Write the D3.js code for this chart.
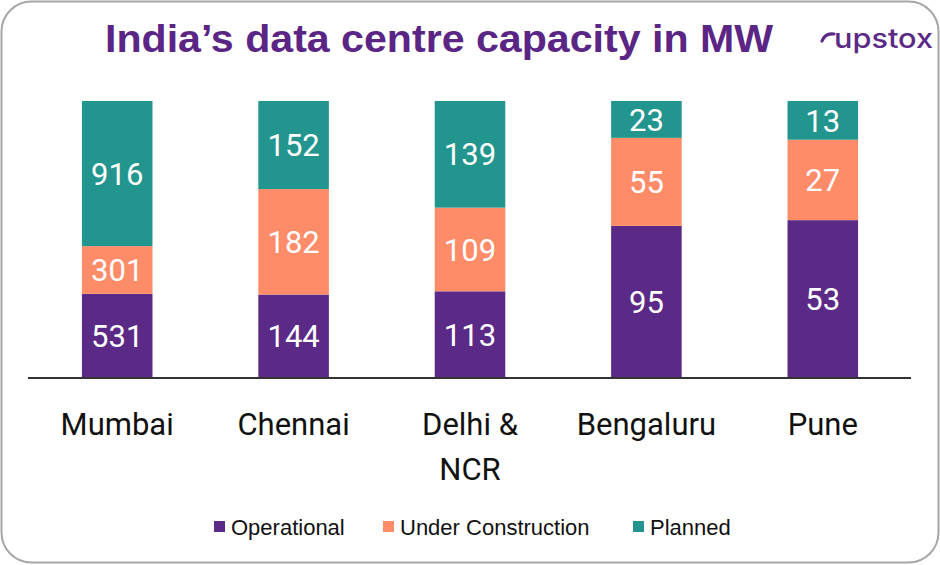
<!DOCTYPE html>
<html><head><meta charset="utf-8">
<script src="https://cdn.jsdelivr.net/npm/d3@7"></script>
<style>body{margin:0;background:#fff}svg{display:block}</style>
</head><body>
<script>
const categories = ["Mumbai", "Chennai", "Delhi & NCR", "Bengaluru", "Pune"];
const categoryLines = [["Mumbai"], ["Chennai"], ["Delhi &", "NCR"], ["Bengaluru"], ["Pune"]];
const seriesNames = ["Operational", "Under Construction", "Planned"];
const operational = [531, 144, 113, 95, 53];
const underConstruction = [301, 182, 109, 55, 27];
const planned = [916, 152, 139, 23, 13];
const colors = ["#5B2A86", "#FF8C69", "#23958F"];

const W = 940, H = 565;
const svg = d3.select("body").append("svg").attr("width", W).attr("height", H);

svg.append("rect").attr("x", 1.5).attr("y", 1.5).attr("width", W - 3).attr("height", H - 4)
  .attr("rx", 30).attr("fill", "#fff").attr("stroke", "#a6a6a6").attr("stroke-width", 2);

svg.append("text").attr("x", 105).attr("y", 52).attr("fill", "#5B2585")
  .attr("font-family", "Liberation Sans, Arial, sans-serif").attr("font-weight", "bold")
  .attr("font-size", 38).attr("textLength", 668).attr("lengthAdjust", "spacingAndGlyphs")
  .text("India’s data centre capacity in MW");

// logo
const logo = svg.append("g");
logo.append("path").attr("d", "M822,41 C824,36 828,33 834,34")
  .attr("fill", "none").attr("stroke", "#5B2A86").attr("stroke-width", 3.2).attr("stroke-linecap", "round");
logo.append("text").attr("x", 834).attr("y", 48).attr("fill", "#5B2A86")
  .attr("font-family", "Inter, Roboto, sans-serif").attr("font-weight", 500).attr("font-size", 27)
  .attr("textLength", 99).attr("lengthAdjust", "spacingAndGlyphs").text("upstox");

const data = categories.map((c, i) => ({
  cat: c, Operational: operational[i], "Under Construction": underConstruction[i], Planned: planned[i]
}));
const stacked = d3.stack().keys(seriesNames).offset(d3.stackOffsetExpand)(data);

const x = d3.scaleBand().domain(categories).range([29, 911]).paddingInner(0.6).paddingOuter(0.3);
const y = d3.scaleLinear().domain([0, 1]).range([378, 101]);

const g = svg.append("g");
stacked.forEach((s, si) => {
  g.selectAll(null).data(s).enter().append("rect")
    .attr("x", d => x(d.data.cat)).attr("width", x.bandwidth())
    .attr("y", d => y(d[1])).attr("height", d => y(d[0]) - y(d[1]))
    .attr("fill", colors[si]);
  g.selectAll(null).data(s).enter().append("text")
    .attr("x", d => x(d.data.cat) + x.bandwidth() / 2)
    .attr("y", d => (y(d[0]) + y(d[1])) / 2)
    .attr("dy", "0.36em").attr("text-anchor", "middle").attr("fill", "#fff")
    .attr("font-family", "Roboto, sans-serif").attr("font-size", 31)
    .text(d => d.data[s.key]);
});

const axis = svg.append("g").attr("transform", "translate(0,378)")
  .call(d3.axisBottom(x).tickSize(0).tickFormat(""));
axis.select(".domain").attr("stroke", "#333").attr("stroke-width", 2).attr("d", "M28,0H911");

categories.forEach((c, i) => {
  const t = svg.append("text").attr("x", x(c) + x.bandwidth() / 2).attr("y", 435)
    .attr("text-anchor", "middle").attr("fill", "#111")
    .attr("font-family", "Roboto, sans-serif").attr("font-size", 31);
  categoryLines[i].forEach((ln, j) => {
    t.append("tspan").attr("x", x(c) + x.bandwidth() / 2).attr("dy", j === 0 ? 0 : 45).text(ln);
  });
});

const legendX = [214, 383, 633];
seriesNames.forEach((n, i) => {
  svg.append("rect").attr("x", legendX[i]).attr("y", 521).attr("width", 11).attr("height", 11).attr("fill", colors[i]);
  svg.append("text").attr("x", legendX[i] + 17).attr("y", 535).attr("fill", "#111")
    .attr("font-family", "Liberation Sans, Arial, sans-serif").attr("font-size", 22).text(n);
});
</script>
</body></html>
